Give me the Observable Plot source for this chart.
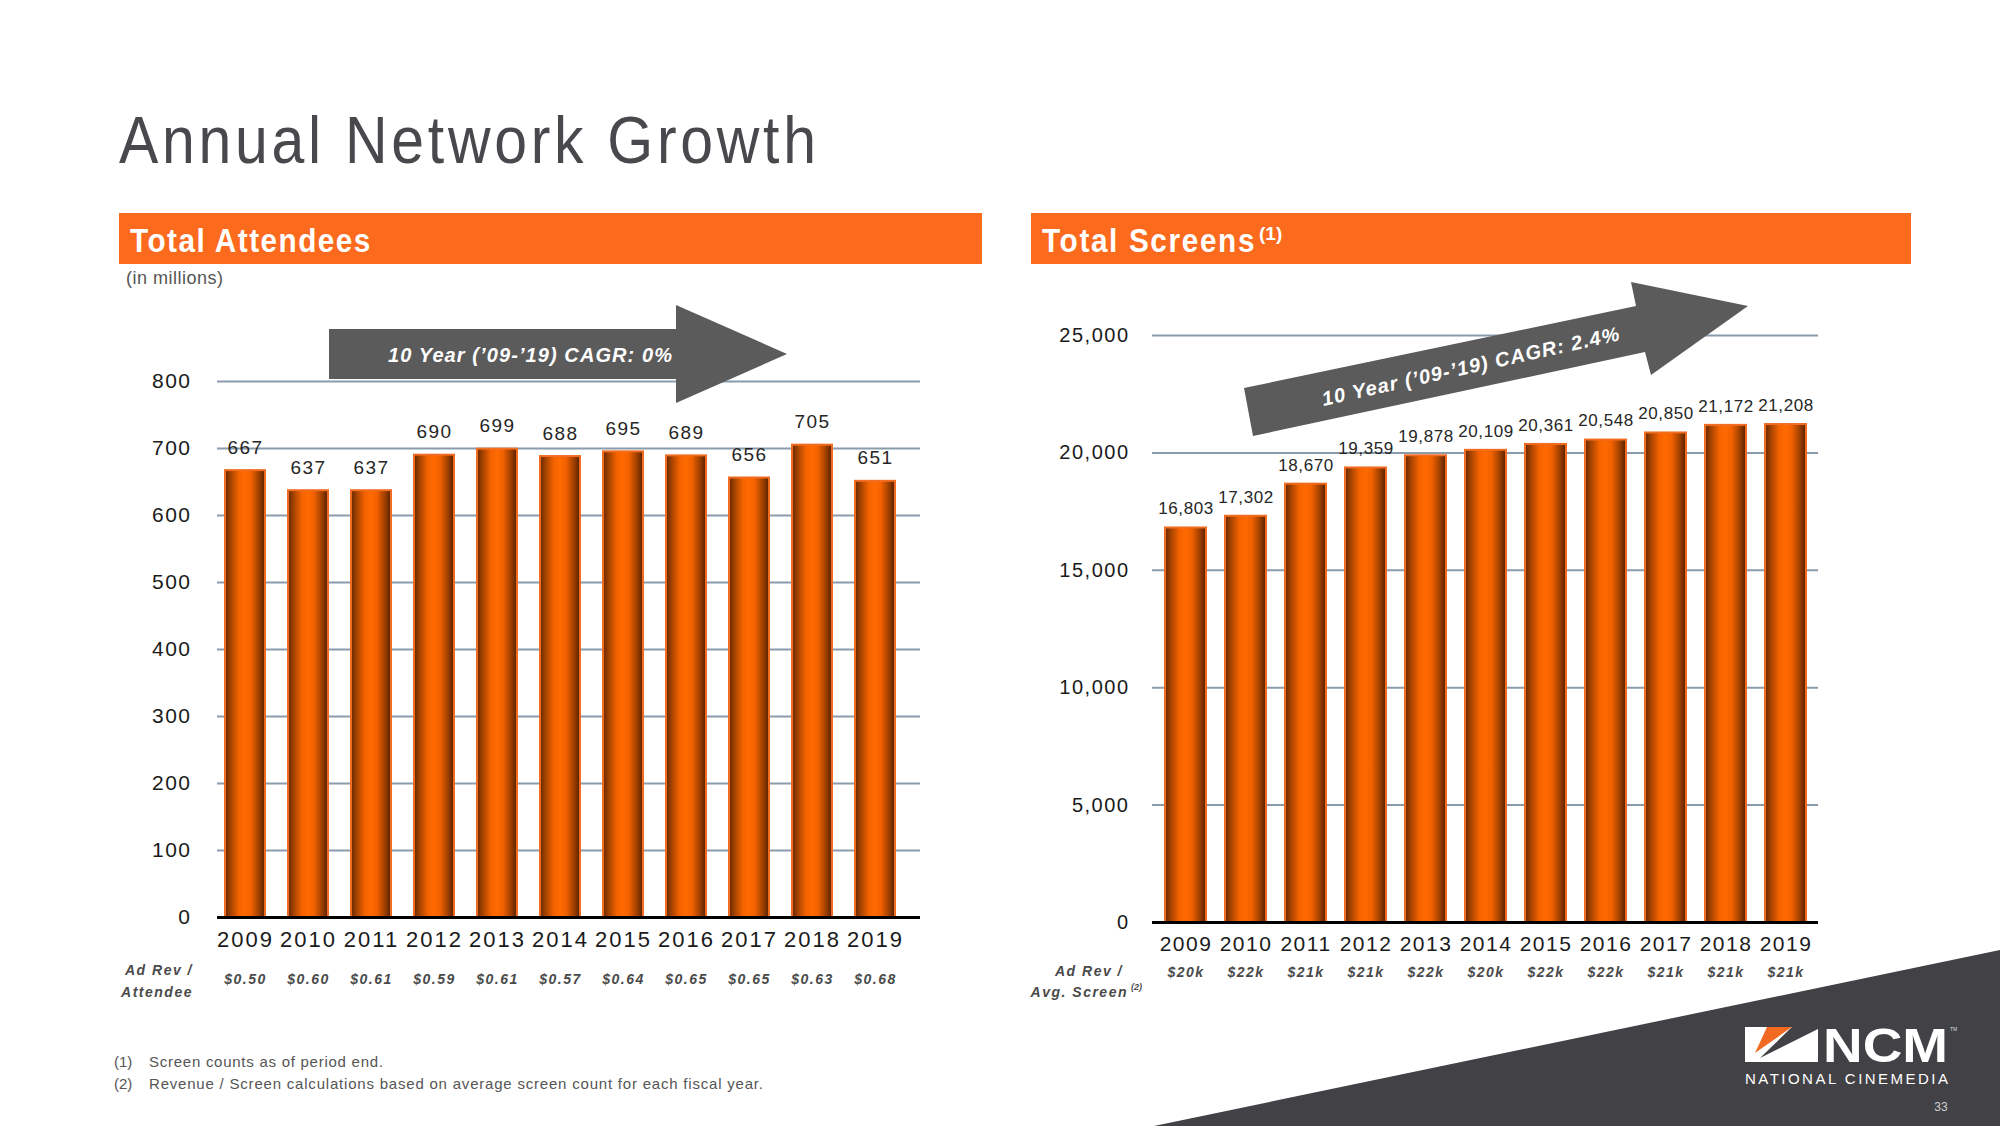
<!DOCTYPE html>
<html><head><meta charset="utf-8">
<script src="https://cdn.jsdelivr.net/npm/d3@7"></script>
<script src="https://cdn.jsdelivr.net/npm/@observablehq/plot@0.6"></script>
<style>
html,body{margin:0;padding:0;background:#fff;}
#page{position:relative;width:2000px;height:1126px;overflow:hidden;font-family:"Liberation Sans",Arial,sans-serif;}
.layer{position:absolute;left:0;top:0;}
#left,#right{position:absolute;}
#left{left:0;top:300px;}
#right{left:1000px;top:280px;}
#left svg text,#right svg text{letter-spacing:1.5px;}
#left g[aria-label="x-axis tick label"] text{letter-spacing:2px;}
#right g.vlabels text{letter-spacing:0.6px;}
</style></head>
<body><div id="page">
<svg class="layer" id="bg" width="2000" height="1126" font-family="Liberation Sans, Arial, sans-serif">
  <polygon points="1154,1126 2000,950 2000,1126" fill="#414146"/>
  <text transform="translate(119,163) scale(0.88,1)" font-size="67" fill="#48484d" textLength="792" lengthAdjust="spacing">Annual Network Growth</text>
  <rect x="119" y="213" width="863" height="51" fill="#fc6a1e"/>
  <rect x="1031" y="213" width="880" height="51" fill="#fc6a1e"/>
  <text transform="translate(130,252) scale(0.9,1)" font-size="33" font-weight="bold" fill="#fff" textLength="267" lengthAdjust="spacing">Total Attendees</text>
  <text transform="translate(1042,252) scale(0.9,1)" font-size="33" font-weight="bold" fill="#fff" textLength="236" lengthAdjust="spacing">Total Screens</text>
  <text x="1259" y="240" font-size="19" font-weight="bold" fill="#fff">(1)</text>
  <text x="126" y="284" font-size="18" fill="#555" textLength="97" lengthAdjust="spacing">(in millions)</text>
  <g font-size="14" font-weight="bold" font-style="italic" fill="#4a4a4a" text-anchor="end" style="letter-spacing:1.5px">
    <text x="193" y="975">Ad Rev /</text>
    <text x="193" y="997">Attendee</text>
    <text x="1123" y="976">Ad Rev /</text>
    <text x="1128" y="997">Avg. Screen</text>
  </g>
  <text x="1131" y="990" font-size="9" font-weight="bold" font-style="italic" fill="#4a4a4a">(2)</text>
  <g font-size="15" fill="#555">
    <text x="114" y="1067">(1)</text>
    <text x="149" y="1067" textLength="234" lengthAdjust="spacing">Screen counts as of period end.</text>
    <text x="114" y="1089">(2)</text>
    <text x="149" y="1089" textLength="614" lengthAdjust="spacing">Revenue / Screen calculations based on average screen count for each fiscal year.</text>
  </g>
  <rect x="1745" y="1027" width="73" height="35" fill="#fff"/>
  <polygon points="1792,1027 1818,1027 1818,1029 1760,1058" fill="#414146"/>
  <polygon points="1767,1027 1792,1027 1755,1053" fill="#f26a21"/>
  <text x="1823" y="1062" font-size="49" font-weight="bold" fill="#fff" textLength="125" lengthAdjust="spacingAndGlyphs">NCM</text>
  <text x="1950" y="1031" font-size="5" fill="#ddd">TM</text>
  <text x="1745" y="1084" font-size="15" fill="#fff" textLength="203" lengthAdjust="spacing">NATIONAL CINEMEDIA</text>
  <text x="1941" y="1111" font-size="12" fill="#cfcfcf" text-anchor="middle">33</text>
</svg>
<div id="left"></div><div id="right"></div>
<svg class="layer" id="fg" width="2000" height="1126" style="pointer-events:none" font-family="Liberation Sans, Arial, sans-serif">
  <polygon points="329,329 676,329 676,305 787,354 676,403 676,379 329,379" fill="#5b5b5b"/>
  <text x="530" y="362" font-size="20" font-weight="bold" font-style="italic" fill="#fff" text-anchor="middle" textLength="284" lengthAdjust="spacing">10 Year (’09-’19) CAGR: 0%</text>
  <polygon points="1244,388 1636,306 1631,282 1748,306 1651,375 1645,352 1253,436" fill="#5b5b5b"/>
  <text transform="translate(1472,373) rotate(-12.5)" font-size="20" font-weight="bold" font-style="italic" fill="#fff" text-anchor="middle" textLength="304" lengthAdjust="spacing">10 Year (’09-’19) CAGR: 2.4%</text>
</svg>
</div>
<script>
const years = ["2009","2010","2011","2012","2013","2014","2015","2016","2017","2018","2019"];
const attendees = [667,637,637,690,699,688,695,689,656,705,651];
const adRevPerAttendee = ["$0.50","$0.60","$0.61","$0.59","$0.61","$0.57","$0.64","$0.65","$0.65","$0.63","$0.68"];
const screens = [16803,17302,18670,19359,19878,20109,20361,20548,20850,21172,21208];
const adRevPerScreen = ["$20k","$22k","$21k","$21k","$22k","$20k","$22k","$22k","$21k","$21k","$21k"];
const attendeeTicks = [0,100,200,300,400,500,600,700,800];
const screenTicks = [0,5000,10000,15000,20000,25000];

const attData = years.map((year,i)=>({year, value: attendees[i], adRev: adRevPerAttendee[i]}));
const scrData = years.map((year,i)=>({year, value: screens[i], adRev: adRevPerScreen[i]}));

function gradDefs(id){
  return () => {
    const defs = d3.create("svg:defs");
    const g = defs.append("linearGradient").attr("id", id).attr("x1",0).attr("x2",1).attr("y1",0).attr("y2",0);
    [[0,"#652800"],[0.15,"#a84400"],[0.35,"#f56300"],[0.5,"#ff6a00"],[0.65,"#f26100"],[0.85,"#9e3f00"],[1,"#552000"]]
      .forEach(([o,c])=>g.append("stop").attr("offset",o).attr("stop-color",c));
    return defs.node();
  };
}
const font = "Liberation Sans, Arial, sans-serif";

const left = Plot.plot({
  width: 940, height: 720, marginLeft: 217, marginRight: 20, marginTop: 81, marginBottom: 103,
  style: {fontFamily: font, background: "transparent", overflow: "visible", color: "#1a1a1a"},
  x: {type: "band", domain: years, paddingInner: 0.36, paddingOuter: 0.05, insetRight: 16, label: null},
  y: {domain: [0, 800], label: null},
  marks: [
    Plot.gridY(attendeeTicks, {stroke: "#8a9cab", strokeOpacity: 1, strokeWidth: 2}),
    gradDefs("gradL"),
    Plot.barY(attData, {x: "year", y: "value", fill: "url(#gradL)", stroke: "#f26d22", strokeWidth: 2}),
    Plot.ruleY([0], {stroke: "#000", strokeWidth: 3}),
    Plot.text(attData, {x: "year", y: "value", text: d => String(d.value), dy: -23, fontSize: 19, fill: "#262626"}),
    Plot.text(attData, {x: "year", text: "adRev", frameAnchor: "bottom", dy: 66, fontSize: 14, fontWeight: "bold", fontStyle: "italic", fill: "#4a4a4a"}),
    Plot.axisY(attendeeTicks, {tickSize: 0, tickPadding: 26, fontSize: 21, tickFormat: d => String(d), label: null}),
    Plot.axisX({tickSize: 0, tickPadding: 14, fontSize: 22, label: null})
  ]
});
document.getElementById("left").append(left);

const right = Plot.plot({
  width: 840, height: 720, marginLeft: 152, marginRight: 22, marginTop: 55, marginBottom: 78,
  style: {fontFamily: font, background: "transparent", overflow: "visible", color: "#1a1a1a"},
  x: {type: "band", domain: years, paddingInner: 0.32, paddingOuter: 0.16, label: null},
  y: {domain: [0, 25000], label: null},
  marks: [
    Plot.gridY(screenTicks, {stroke: "#8a9cab", strokeOpacity: 1, strokeWidth: 2}),
    gradDefs("gradR"),
    Plot.barY(scrData, {x: "year", y: "value", fill: "url(#gradR)", stroke: "#f26d22", strokeWidth: 2}),
    Plot.ruleY([0], {stroke: "#000", strokeWidth: 3}),
    Plot.text(scrData, {x: "year", y: "value", text: d => d3.format(",")(d.value), dy: -19, fontSize: 17, fill: "#262626", className: "vlabels"}),
    Plot.text(scrData, {x: "year", text: "adRev", frameAnchor: "bottom", dy: 54, fontSize: 14, fontWeight: "bold", fontStyle: "italic", fill: "#4a4a4a"}),
    Plot.axisY(screenTicks, {tickSize: 0, tickPadding: 23, fontSize: 20, tickFormat: d3.format(","), label: null}),
    Plot.axisX({tickSize: 0, tickPadding: 14, fontSize: 21, label: null})
  ]
});
document.getElementById("right").append(right);
</script>
</body></html>
